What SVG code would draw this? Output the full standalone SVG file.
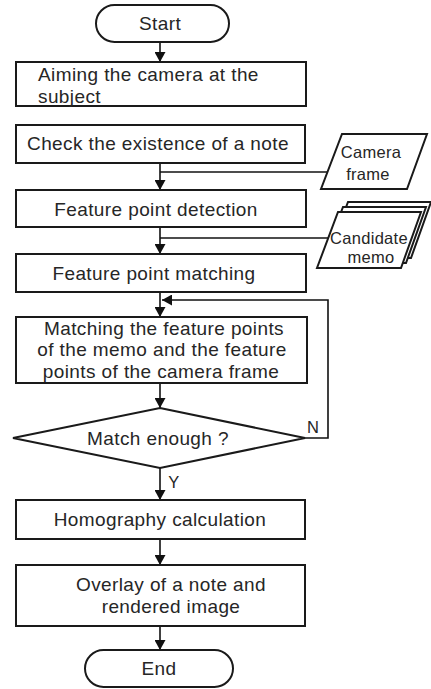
<svg xmlns="http://www.w3.org/2000/svg" width="431" height="689" viewBox="0 0 431 689">
<style>
.box{fill:#fff;stroke:#1a1a1a;stroke-width:2}
.t{font-family:"Liberation Sans",Arial,sans-serif;font-size:19px;letter-spacing:0.4px;fill:#262626;text-anchor:middle;dominant-baseline:central}
.s{font-size:16.5px;letter-spacing:0.3px}
.l{text-anchor:start}
.c{fill:none;stroke:#111;stroke-width:1.6}
</style>
<defs>
<marker id="ah" markerUnits="userSpaceOnUse" markerWidth="11" markerHeight="11" refX="10" refY="5.5" orient="auto">
<path d="M0,0 L10,5.5 L0,11 Z" fill="#111"/>
</marker>
</defs>
<rect width="431" height="689" fill="#fff"/>
<g id="connectors">
<line class="c" x1="160" y1="42" x2="160" y2="62" marker-end="url(#ah)"/>
<line class="c" x1="160" y1="163" x2="160" y2="190" marker-end="url(#ah)"/>
<line class="c" x1="327" y1="172" x2="160" y2="172"/>
<line class="c" x1="160" y1="227" x2="160" y2="254" marker-end="url(#ah)"/>
<line class="c" x1="328" y1="238" x2="160" y2="238"/>
<line class="c" x1="160" y1="292" x2="160" y2="317" marker-end="url(#ah)"/>
<polyline class="c" points="305,438 328,438 328,300 162,300" marker-end="url(#ah)"/>
<line class="c" x1="160" y1="383" x2="160" y2="408" marker-end="url(#ah)"/>
<line class="c" x1="160" y1="468" x2="160" y2="500" marker-end="url(#ah)"/>
<line class="c" x1="160" y1="539" x2="160" y2="565" marker-end="url(#ah)"/>
<line class="c" x1="160" y1="626" x2="160" y2="650" marker-end="url(#ah)"/>
<text class="t s" x="313" y="427">N</text>
<text class="t s" x="174" y="482">Y</text>
</g>
<g id="start">
<rect class="box" x="96" y="5" width="133" height="37" rx="18.5"/>
<text class="t" x="160" y="23">Start</text>
</g>
<g id="aiming">
<rect class="box" x="16" y="62" width="290" height="44"/>
<text class="t l" x="38" y="74">Aiming the camera at the</text>
<text class="t l" x="38" y="96">subject</text>
</g>
<g id="check">
<rect class="box" x="16" y="125" width="289" height="38"/>
<text class="t" x="158" y="143">Check the existence of a note</text>
</g>
<g id="camera-frame">
<polygon class="box" points="342,134 427,134 407,189 321,189"/>
<text class="t s" x="371" y="152">Camera</text>
<text class="t s" x="368" y="174">frame</text>
</g>
<g id="detection">
<rect class="box" x="16" y="190" width="290" height="37"/>
<text class="t" x="156" y="209">Feature point detection</text>
</g>
<g id="candidate-memo">
<polygon class="box" points="348,202 431,202 411,258 327,258"/>
<polygon class="box" points="343,207 426,207 406,263 322,263"/>
<polygon class="box" points="338,212 421,212 401,268 317,268"/>
<text class="t s" x="369" y="238">Candidate</text>
<text class="t s" x="371" y="257">memo</text>
</g>
<g id="matching">
<rect class="box" x="16" y="254" width="290" height="38"/>
<text class="t" x="154" y="273">Feature point matching</text>
</g>
<g id="matching-memo">
<rect class="box" x="16" y="317" width="291" height="66"/>
<text class="t" x="164" y="328">Matching the feature points</text>
<text class="t" x="162" y="349.5">of the memo and the feature</text>
<text class="t" x="161" y="371">points of the camera frame</text>
</g>
<g id="decision">
<polygon class="box" points="160,408 305,438 160,468 13,438"/>
<text class="t" x="158" y="438">Match enough ?</text>
</g>
<g id="homography">
<rect class="box" x="16" y="500" width="289" height="39"/>
<text class="t" x="160" y="519">Homography calculation</text>
</g>
<g id="overlay">
<rect class="box" x="16" y="565" width="289" height="61"/>
<text class="t" x="171" y="584">Overlay of a note and</text>
<text class="t" x="171" y="606">rendered image</text>
</g>
<g id="end">
<rect class="box" x="85" y="650" width="148" height="37" rx="18.5"/>
<text class="t" x="159" y="668">End</text>
</g>
</svg>
